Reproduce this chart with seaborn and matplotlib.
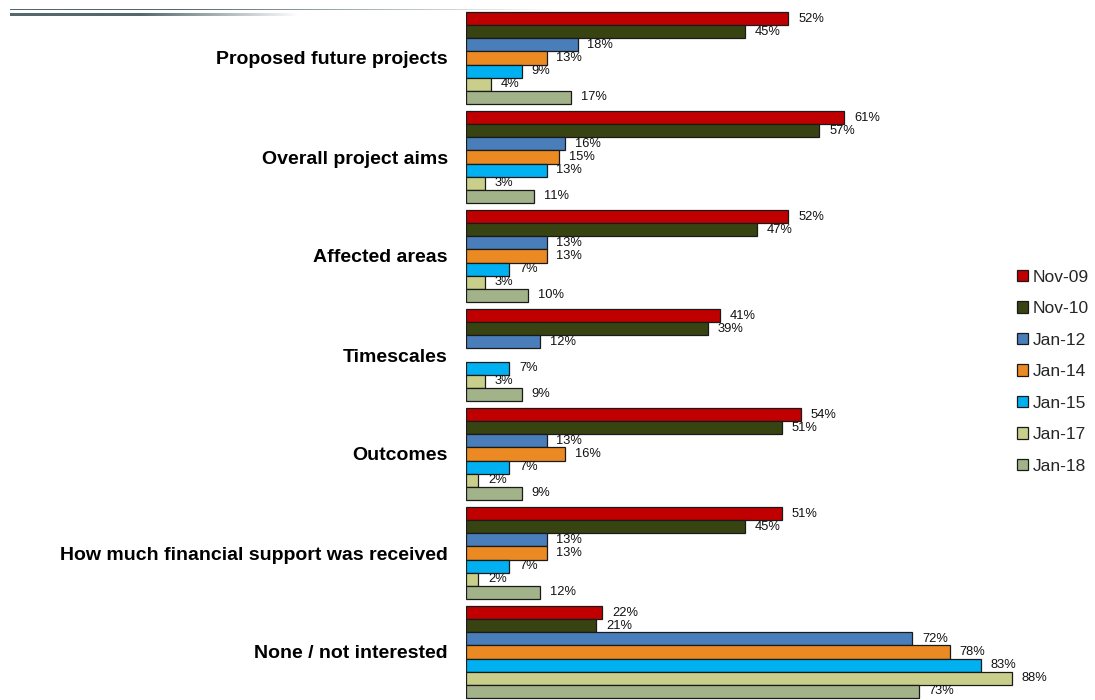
import numpy as np
import pandas as pd
import seaborn as sns
import matplotlib.pyplot as plt
import matplotlib.transforms as mtransforms

categories = ['Proposed future projects', 'Overall project aims', 'Affected areas',
              'Timescales', 'Outcomes', 'How much financial support was received',
              'None / not interested']
waves = ['Nov-09', 'Nov-10', 'Jan-12', 'Jan-14', 'Jan-15', 'Jan-17', 'Jan-18']

nov09 = [52, 61, 52, 41, 54, 51, 22]
nov10 = [45, 57, 47, 39, 51, 45, 21]
jan12 = [18, 16, 13, 12, 13, 13, 72]
jan14 = [13, 15, 13, np.nan, 16, 13, 78]
jan15 = [9, 13, 7, 7, 7, 7, 83]
jan17 = [4, 3, 3, 3, 2, 2, 88]
jan18 = [17, 11, 10, 9, 9, 12, 73]

colors = ['#C00000', '#384312', '#4A7EBB', '#EB8A22', '#00B0F0', '#C9CF8A', '#A2B38A']

rows = []
for wave, vals in zip(waves, [nov09, nov10, jan12, jan14, jan15, jan17, jan18]):
    for cat, v in zip(categories, vals):
        rows.append({'category': cat, 'wave': wave, 'value': v})
df = pd.DataFrame(rows)

sns.set_style('white')
plt.rcParams['font.family'] = ['Liberation Sans', 'DejaVu Sans']

fig = plt.figure(figsize=(10.95, 7), dpi=100)
ax = fig.add_axes([466 / 1095, -1.5 / 700, 620 / 1095, 693 / 700])

sns.barplot(data=df, y='category', x='value', hue='wave', order=categories,
            hue_order=waves, palette=colors, orient='h', width=0.93,
            edgecolor='#1a1a1a', linewidth=0.9, saturation=1, ax=ax)

shift = mtransforms.ScaledTranslation(0, -3 / 72, fig.dpi_scale_trans)
for cont in ax.containers:
    labels = ax.bar_label(cont, fmt='%d%%', padding=7, fontsize=9.3, color='#111111')
    for t in labels:
        t.set_transform(t.get_transform() + shift)

ax.set_xlim(0, 100)
ax.set_ylim(6.5, -0.5)
ax.set_xlabel('')
ax.set_ylabel('')
ax.set_xticks([])
for s in ax.spines.values():
    s.set_visible(False)
ax.tick_params(axis='y', length=0, pad=13, labelsize=14, labelcolor='black')
for lab in ax.get_yticklabels():
    lab.set_fontweight('bold')

ax.legend(loc='upper left', bbox_to_anchor=(1008 / 1095, 1 - 261 / 700),
          bbox_transform=fig.transFigure, frameon=False, fontsize=12.5,
          handlelength=0.65, handleheight=0.65, handletextpad=0.25,
          labelspacing=0.95, borderpad=0)

# decorative header lines fading out to the right
base = np.array([0x52, 0x68, 0x6e]) / 255
for y_px, x_end, h_px, fade_start in [(9.3, 560, 1.4, 0.3), (14.7, 300, 2.6, 0.45)]:
    hax = fig.add_axes([10 / 1095, 1 - (y_px + h_px / 2) / 700, (x_end - 10) / 1095, h_px / 700])
    hax.axis('off')
    n = 400
    a = np.clip(1 - (np.linspace(0, 1, n) - fade_start) / (1 - fade_start), 0, 1)
    img = np.zeros((1, n, 4))
    img[..., :3] = base
    img[0, :, 3] = a
    hax.imshow(img, aspect='auto', interpolation='bilinear', extent=[0, 1, 0, 1])

fig.savefig('out.png', dpi=100)
